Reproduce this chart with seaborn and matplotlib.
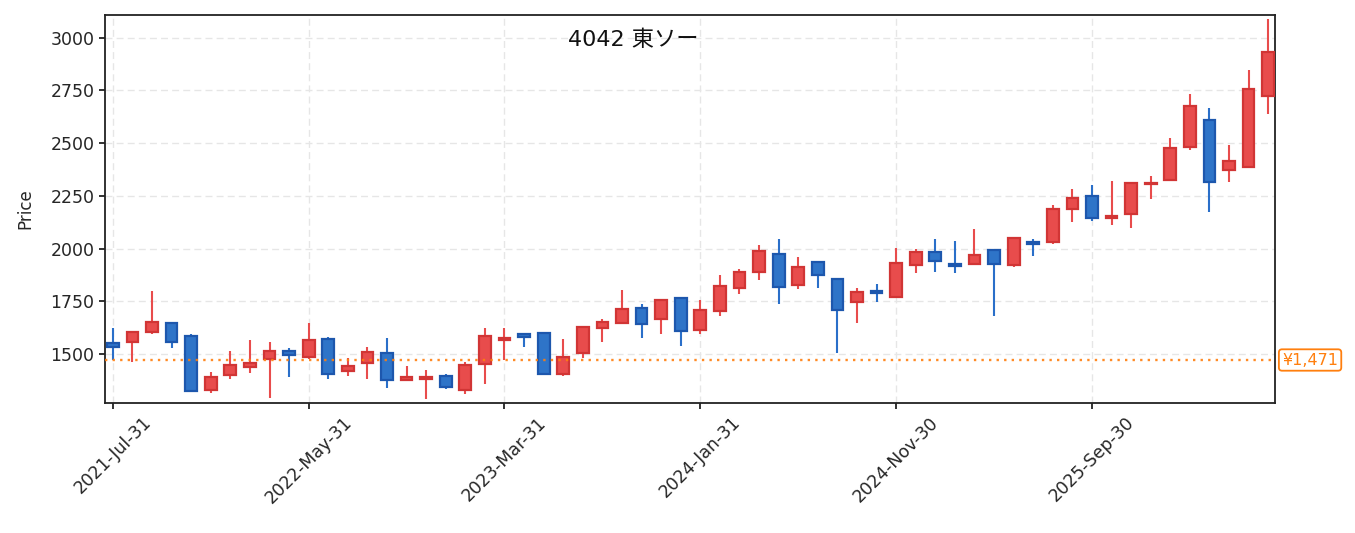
import numpy as np
import pandas as pd
import matplotlib
matplotlib.use("Agg")
import matplotlib.pyplot as plt
import seaborn as sns

# ---- data (monthly OHLC) ----
opens = [1551, 1556, 1603, 1646, 1587, 1328, 1399, 1437, 1475, 1513,
         1484, 1573, 1419, 1457, 1506, 1377, 1380, 1397, 1329, 1453,
         1568, 1593, 1601, 1404, 1503, 1622, 1646, 1720, 1665, 1767,
         1614, 1704, 1812, 1888, 1973, 1826, 1935, 1853, 1747, 1797,
         1769, 1922, 1985, 1926, 1927, 1995, 1921, 2030, 2030, 2186,
         2251, 2145, 2164, 2305, 2324, 2482, 2609, 2373, 2387, 2724]
highs = [1622, 1603, 1799, 1646, 1595, 1415, 1514, 1566, 1557, 1527,
         1647, 1579, 1480, 1532, 1574, 1443, 1424, 1404, 1462, 1623,
         1622, 1598, 1601, 1571, 1633, 1665, 1804, 1737, 1758, 1767,
         1756, 1875, 1902, 2017, 2046, 1959, 1935, 1856, 1812, 1832,
         2001, 1997, 2044, 2036, 2093, 1995, 2052, 2044, 2207, 2283,
         2302, 2321, 2315, 2344, 2525, 2733, 2667, 2492, 2847, 3089]
lows = [1471, 1463, 1595, 1530, 1324, 1316, 1381, 1411, 1293, 1392,
        1475, 1383, 1397, 1383, 1340, 1370, 1288, 1332, 1312, 1359,
        1471, 1535, 1404, 1397, 1480, 1558, 1646, 1577, 1595, 1538,
        1595, 1680, 1785, 1851, 1737, 1808, 1814, 1506, 1648, 1748,
        1764, 1886, 1890, 1886, 1927, 1682, 1914, 1965, 2023, 2128,
        2132, 2112, 2099, 2235, 2324, 2469, 2175, 2317, 2387, 2640]
closes = [1532, 1603, 1653, 1556, 1324, 1388, 1449, 1456, 1516, 1495,
          1568, 1405, 1444, 1511, 1377, 1388, 1389, 1343, 1449, 1587,
          1577, 1582, 1404, 1487, 1627, 1653, 1715, 1641, 1758, 1609,
          1710, 1824, 1890, 1990, 1816, 1914, 1873, 1707, 1796, 1788,
          1933, 1985, 1941, 1916, 1971, 1927, 2052, 2020, 2189, 2242,
          2144, 2156, 2310, 2311, 2476, 2678, 2315, 2417, 2756, 2934]
dates = pd.date_range("2021-07-31", periods=len(opens), freq="ME")
date_labels = [d.strftime("%Y-%b-%d") for d in dates]
ref_price = 1471
title_text = "4042 東ソー"
ref_label = "¥1,471"

df = pd.DataFrame({"date": date_labels, "open": opens, "high": highs,
                   "low": lows, "close": closes})
df["pos"] = np.arange(len(df))
df["up"] = df["close"] >= df["open"]

sns.set_theme(style="ticks")
plt.rcParams["font.family"] = ["DejaVu Sans", "Noto Sans CJK JP"]

fig = plt.figure(figsize=(13.55, 5.33), dpi=100)
ax = fig.add_axes([0.0775, 0.2439, 0.8635, 0.728])

UP_FILL, UP_EDGE, UP_WICK = "#e84c4c", "#d13535", "#e84c4c"
DN_FILL, DN_EDGE, DN_WICK = "#2e74c8", "#1d57ad", "#2a6fc9"

for up, fill, edge, wick in [(True, UP_FILL, UP_EDGE, UP_WICK),
                             (False, DN_FILL, DN_EDGE, DN_WICK)]:
    sub = df[df["up"] == up]
    ax.vlines(sub["pos"], sub["low"], sub["high"], color=wick, lw=1.5, zorder=2)
    bottom = np.minimum(sub["open"], sub["close"])
    height = np.maximum(np.abs(sub["close"] - sub["open"]), 1.0)
    ax.bar(sub["pos"], height, bottom=bottom, width=0.6, color=fill,
           edgecolor=edge, linewidth=1.6, zorder=3)

ax.axhline(ref_price, color="#ff7f0e", ls=(0, (1, 2.2)), lw=1.7, alpha=0.9, zorder=4)
ax.text(1.0 + 0.006, ref_price, ref_label, transform=ax.get_yaxis_transform(),
        color="#ff7f0e", fontsize=11.5, va="center", ha="left",
        bbox=dict(boxstyle="round,pad=0.2", fc="white", ec="#ff7f0e", lw=1.3))

ax.text(0.4515, 0.935, title_text, transform=ax.transAxes, ha="center",
        va="center", fontsize=16, color="#111111")

ax.set_xlim(-0.4, 59.35)
ax.set_ylim(1267, 3108)
ticks = list(range(0, len(df), 10))
ax.set_xticks(ticks)
ax.set_xticklabels([date_labels[i] for i in ticks], rotation=45, ha="center",
                   fontsize=12.5)
ax.set_yticks([1500, 1750, 2000, 2250, 2500, 2750, 3000])
ax.tick_params(axis="y", labelsize=12.5)
ax.set_ylabel("Price", fontsize=12, labelpad=12)
ax.set_xlabel("")
ax.grid(True, ls=(0, (5, 3)), color="#e6e6e6", lw=1.0)
ax.set_axisbelow(True)
for s in ax.spines.values():
    s.set_color("#222222")
    s.set_linewidth(1.3)
ax.tick_params(direction="out", length=4, width=1.3, color="#222222")

fig.savefig("out.png", dpi=100)
